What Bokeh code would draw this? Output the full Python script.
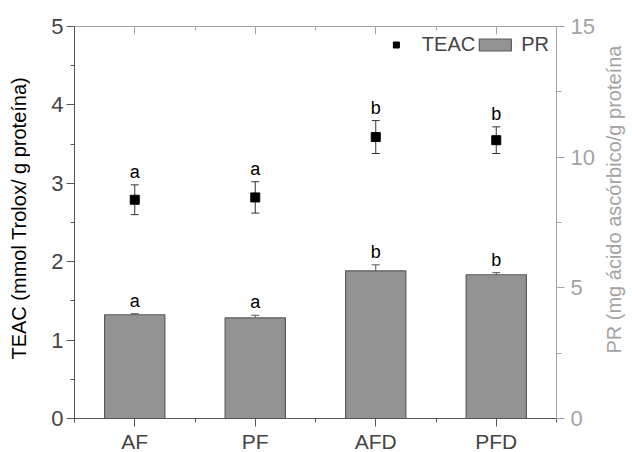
import numpy as np
from bokeh.plotting import figure
from bokeh.layouts import row
from bokeh.models import (Range1d, LinearAxis, FixedTicker, Whisker, ColumnDataSource,
                          Legend, LegendItem, TeeHead, SingleIntervalTicker)
from bokeh.core.properties import value
from bokeh.embed import file_html
from bokeh.resources import INLINE

categories = ["AF", "PF", "AFD", "PFD"]
teac = [2.79, 2.82, 3.59, 3.55]
teac_err = [0.19, 0.20, 0.21, 0.17]
teac_letters = ["a", "a", "b", "b"]
pr = [3.97, 3.85, 5.65, 5.50]
pr_err = [0.04, 0.10, 0.23, 0.08]
pr_letters = ["a", "a", "b", "b"]
left_title_text = "TEAC (mmol Trolox/ g proteína)"
right_title_text = "PR (mg ácido ascórbico/g proteína"

FONT = "Liberation Sans"
GREY_AX = "#a3a3a3"

xpos = [i + 0.5 for i in range(len(categories))]

p = figure(width=570, height=452, frame_width=482, frame_height=392,
           x_range=Range1d(0, len(categories)), y_range=Range1d(0, 5),
           output_backend="svg", toolbar_location=None,
           min_border_left=44, min_border_right=44, min_border_top=26, min_border_bottom=34)
p.outline_line_color = None
p.xgrid.visible = False
p.ygrid.visible = False
p.background_fill_color = "white"

p.extra_y_ranges = {"pr": Range1d(0, 15)}

src = ColumnDataSource(dict(x=xpos, teac=teac, teac_err=teac_err,
                            teac_up=[v + e for v, e in zip(teac, teac_err)],
                            teac_lo=[v - e for v, e in zip(teac, teac_err)],
                            teac_letters=teac_letters,
                            pr=pr, pr_up=[v + e for v, e in zip(pr, pr_err)],
                            pr_letters=pr_letters))

# bars (PR, right axis)
bars = p.vbar(x="x", top="pr", width=0.5, source=src, y_range_name="pr",
              fill_color="#939393", line_color="#5a5a5a", line_width=1.2)
wpr = Whisker(base="x", upper="pr_up", lower="pr", source=src, y_range_name="pr",
              line_color="#555555", line_width=1,
              upper_head=TeeHead(size=8, line_color="#555555", line_width=1), lower_head=None)
p.add_layout(wpr)
p.text(x="x", y="pr_up", text="pr_letters", source=src, y_range_name="pr",
       text_align="center", text_baseline="bottom", y_offset=-3,
       text_font=value(FONT), text_font_size="18px", text_color="black")

# TEAC points (left axis)
wte = Whisker(base="x", upper="teac_up", lower="teac_lo", source=src,
              line_color="#333333", line_width=1,
              upper_head=TeeHead(size=8, line_color="#333333", line_width=1),
              lower_head=TeeHead(size=8, line_color="#333333", line_width=1))
p.add_layout(wte)
pts = p.scatter(x="x", y="teac", source=src, marker="square", size=9,
                fill_color="black", line_color="black")
p.text(x="x", y="teac_up", text="teac_letters", source=src,
       text_align="center", text_baseline="bottom", y_offset=-3,
       text_font=value(FONT), text_font_size="18px", text_color="black")

# left axis
ya = p.yaxis[0]
ya.ticker = SingleIntervalTicker(interval=1, num_minor_ticks=2)
ya.major_label_text_font = FONT
ya.major_label_text_font_size = "22px"
ya.major_label_standoff = 3
ya.axis_line_color = "#555555"
ya.major_tick_line_color = "#555555"
ya.minor_tick_line_color = "#555555"
ya.major_tick_out = 8
ya.major_tick_in = 0
ya.minor_tick_out = 4
ya.minor_tick_in = 0

# bottom axis
xa = p.xaxis[0]
xa.ticker = FixedTicker(ticks=xpos, minor_ticks=list(range(len(categories) + 1)))
xa.major_label_overrides = {x: c for x, c in zip(xpos, categories)}
xa.major_label_text_font = FONT
xa.major_label_text_font_size = "21px"
xa.major_label_standoff = 3
xa.axis_line_color = "#555555"
xa.major_tick_line_color = "#555555"
xa.minor_tick_line_color = "#555555"
xa.major_tick_out = 8
xa.major_tick_in = 0
xa.minor_tick_out = 4
xa.minor_tick_in = 0

# top axis (frame line with inward ticks)
ta = LinearAxis(ticker=FixedTicker(ticks=xpos, minor_ticks=list(range(len(categories) + 1))))
ta.major_label_text_font_size = "0px"
ta.major_label_text_color = None
ta.axis_line_color = GREY_AX
ta.major_tick_line_color = GREY_AX
ta.minor_tick_line_color = GREY_AX
ta.major_tick_in = 8
ta.major_tick_out = 0
ta.minor_tick_in = 4
ta.minor_tick_out = 0
p.add_layout(ta, "above")

# right axis (PR)
ra = LinearAxis(y_range_name="pr", ticker=SingleIntervalTicker(interval=5, num_minor_ticks=2))
ra.major_label_text_font = FONT
ra.major_label_text_font_size = "22px"
ra.major_label_text_color = GREY_AX
ra.major_label_standoff = 6
ra.axis_line_color = GREY_AX
ra.major_tick_line_color = GREY_AX
ra.minor_tick_line_color = GREY_AX
ra.major_tick_out = 8
ra.major_tick_in = 0
ra.minor_tick_out = 5
ra.minor_tick_in = 0
p.add_layout(ra, "right")

legend = Legend(items=[LegendItem(label="TEAC", renderers=[pts]),
                       LegendItem(label="PR", renderers=[bars])],
                orientation="horizontal", location="top_right",
                glyph_width=40, glyph_height=15, label_height=22, label_standoff=6, spacing=-3,
                label_text_font=FONT, label_text_font_size="20px",
                border_line_color=None, background_fill_alpha=0,
                margin=7, padding=4)
p.add_layout(legend)


def title_strip(width, text, x, y, color):
    s = figure(width=width, height=452, x_range=Range1d(0, width), y_range=Range1d(0, 452),
               output_backend="svg", toolbar_location=None,
               min_border_left=0, min_border_right=0, min_border_top=0, min_border_bottom=0)
    s.axis.visible = False
    s.xgrid.visible = False
    s.ygrid.visible = False
    s.outline_line_color = None
    s.text(x=[x], y=[y], text=[text], angle=np.pi / 2,
           text_align="left", text_baseline="middle",
           text_font=value(FONT), text_font_size="20px", text_color=color)
    return s


# axis titles in narrow strips (both read bottom-up, as in the original)
p0 = title_strip(30, left_title_text, 18, 65, "black")
p2 = title_strip(32, right_title_text, 13, 72, GREY_AX)

layout = row(p0, p, p2, spacing=0)
open("out.html", "w").write(file_html(layout, INLINE))
